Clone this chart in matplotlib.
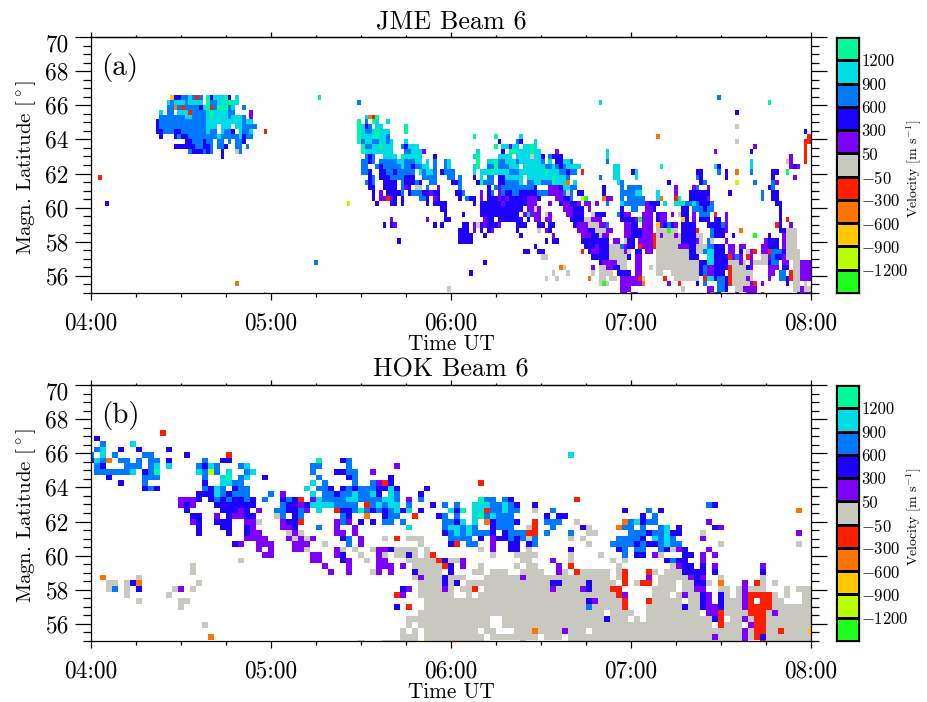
#!/bin/python3
import numpy as np
import matplotlib
matplotlib.use("Agg")
import matplotlib.pyplot as plt
from matplotlib.colors import ListedColormap
from matplotlib.ticker import FixedLocator, NullFormatter
from matplotlib.transforms import ScaledTranslation

plt.rcParams['font.family'] = ['cmr10', 'DejaVu Serif']
plt.rcParams['mathtext.fontset'] = 'cm'
plt.rcParams['axes.unicode_minus'] = False
plt.rcParams['axes.formatter.use_mathtext'] = True

# a..k = velocity bins, most negative to most positive
bin_letters = "abcdefghijk"
bin_colors = ["#1eff1e", "#b9ff00", "#ffc800", "#ff7300", "#ff1e00", "#c8c8c0",
              "#7d00ff", "#1e00ff", "#0078ff", "#00dce6", "#00fa9b"]
velocity_labels = ["$-1200$", "$-900$", "$-600$", "$-300$", "$-50$", "50", "300", "600", "900", "1200"]
hour_labels = ["04:00", "05:00", "06:00", "07:00", "08:00"]
lat_labels = ["56", "58", "60", "62", "64", "66", "68", "70"]

# JME: scan step is 1.2 min, gate 0 is the top row
jme_step = 1.2
jme_cells = {
    0: "22c 23-24h 25-26i 27j 28i 29e 30i 32k 33h 34-36j 37k 38h 40j 63k 174i",
    1: "21j 22i 23-25j 26i 27-30j 32k 33-34i 35-37j 38a 39-40j 74i 141j 188k",
    2: "21-22i 23d 24i 25e 26-29i 30h 31j 32k 33e 34i 35-37k 38i 39j 42i",
    3: "19j 21-22i 24-26j 27e 28-31i 32j 33k 34-37j 38-39i 44g 179h",
    4: "19-25i 26-27j 28-31i 32j 33k 34-37j 38i 39-41j 42i 44g 76j 77d 78e 79k",
    5: "18h 19-31i 32-41j 42i 43-44j 74k 76i 78k 79j 82j",
    6: "18h 19-31i 32-34j 36-38j 40-41j 42-45i 74k 75j 76h 77i 79-80j 87k 179f",
    7: "18-19h 20-22i 23-24h 25-31i 32j 33-34i 36j 37-38i 39h 41j 42-43i 44j 48e 74k 75j 76-77i 78j 79k 80-82j 87k 198h",
    8: "19h 23h 24i 25-26h 27-34i 35j 36-40i 41j 42h 43-44i 74k 75-78j 79k 80-81j 82i 106k 112k 119j 157d 199e",
    9: "26-27h 28-30i 31h 32-33i 35-36i 38i 40-41i 42h 74k 75i 76-77j 78-79i 80-81j 82i 83j 87j 113h 118i 119h 123j 179f 198-199e",
    10: "23-28h 29-30i 31-32h 33i 35-36i 37h 40-41i 43i 75k 76-77i 78-79j 80k 81-83j 86i 87h 88-90j 112k 114-115j 116g 117-118j 120-121j 122k 123j 184g 198e",
    11: "27i 28-30h 31i 32h 33i 36h 40f 41i 75k 76-83j 87-88i 89-91j 92g 107j 114h 116-117k 118-121j 122k 123-124j 129g 143j 173g 183h 198e",
    12: "36h 76i 77h 78i 81-84j 86k 87-91j 95h 106j 107k 113-116j 118-121j 122f 123-124j 125h 127i 128-130h 143j 194g 198e",
    13: "75-76i 77h 78i 80-84i 85-86j 87-89i 90-91j 93j 95i 98i 99j 107k 110-111j 112k 113-114i 115-117j 118i 119-124j 125i 127j 129-130h 131-132j 133i 143i 183j 193f 194g 198e",
    14: "75-76i 79i 80h 81-85i 86j 87-88i 89h 90-91i 92-93j 95i 98i 99j 106j 107k 110-111i 112k 113-115i 116-118j 120-125j 126-127i 128j 129i 130h 131i 132-135j 145-146j 158k 173j 174h 183j 194g 195h 196g",
    15: "75-76i 77h 80-81h 82-83i 84h 85-89i 91j 92i 93-94j 95i 97h 98-100i 106j 108-110j 111k 112-115j 116-118i 119-125j 126k 127-129j 130-131i 132h 133i 134i 136e 145-146j 150h 151j 168-169h 174i 176h 179d 183i 189-190h 193k",
    16: "2e 77h 78i 80-82h 83-86i 87-89h 92-95i 99-100i 102i 106h 108j 110-111i 113-114h 115-119j 121-127j 128k 129-131j 132i 141i 145-146j 151j 168i 169h 176h 189h 195g",
    17: "76i 77h 78i 81-84h 86i 87-89h 90i 91h 94-95i 100-101h 102i 107h 108k 109-111i 113-114h 115i 116-118i 119j 121-122i 123-124j 125-127i 128k 129-131j 132d 134j 146j 147i 160h 169h 170i 179b 184i 189i 190g",
    18: "77-78h 81-84h 86i 87g 88h 90-91f 93i 96g 102i 110h 112i 113g 114-122i 123h 127-129g 130h 131-132j 133-134i 142h 147i 149-152i 162g 167g 168i 171g 188h 189i",
    19: "78h 80g 82-85h 86i 88h 89-91i 92-93h 94g 95-96h 101-102h 103i 108g 110h 111i 113g 114i 115-116h 117-118i 119-123h 124-126i 127-130g 131i 132f 133i 135-136h 142h 147-148i 149-150i 151-152j 157j 162g 166-167h 168-171h 177h 186i 189-190h",
    20: "78h 80-81g 82e 83g 84h 86h 91-92i 93h 95g 96h 102h 104i 105-106h 108g 110-112h 113g 114h 115g 116-120h 121-123g 124h 129-130g 131-132h 133i 136b 137a 142d 143-144g 147i 149-153i 157j 158d 162e 163k 166-170h 171g 186i 189-190h",
    21: "4h 71b 79h 83-84h 86h 93h 95-98h 106h 108-113h 114g 115-120h 121-123g 127g 130h 131-132g 133-134h 135g 137-138g 140g 143i 147j 148i 149-153i 154g 155-157h 159j 162-164j 165-166i 167j 168i 169-171h 172i 190-191h",
    22: "97-98h 108-119h 121-122g 123f 124g 131-132g 133g 134-136h 138g 147h 150-151i 154-155g 156h 164-165h 167-169i 170h 171-172i 191h",
    23: "98h 103h 108-118h 120g 121j 122-124g 126f 127g 132g 133g 134-136h 139f 140-142h 146i 147h 148-149g 153-155g 157h 158-159g 161g 163f 164-165h 167g 169-171i 173e 176g 191h",
    24: "83g 93g 98-99h 109g 110-111h 113-119h 121h 123-124g 126-127g 133-136h 137-138f 139-141g 147-148h 149-150h 151g 152a 153-155g 157h 158-159g 164c 165h 167g 169-171h 173-174h 176g 191h 193e",
    25: "81h 83h 84g 95h 97h 103-104h 106g 107f 108h 109g 110-112h 113g 118-120h 124-125h 127-128h 134h 135-137g 138-140f 141-142g 143i 148-149g 150-151h 153-155g 157c 158g 159h 160i 161h 162g 164-167h 171-174h 175i 176g 190e 191h 194g",
    26: "102-104h 106g 108h 110h 111g 118h 124f 126g 127h 135-137g 138-139h 140-142f 143-144g 148-149g 150-152h 153-155g 157-159f 160a 161-162f 164-167h 168e 172i 173-175h 176g 180d 191-192h 193-195f",
    27: "102-105h 109h 119h 128g 136-138g 139-140h 141f 142-143g 148-149g 150-152h 153-155g 156e 157f 158g 159-161f 162g 163f 164-167h 168-169f 172i 173-175h 178h 184a 188h 192g 193-195f",
    28: "85h 102-105h 126h 128-129h 136-137h 138-142h 143h 145-146g 148f 149-150h 152-155g 156e 157-163f 164-167h 168g 169f 171i 172f 176g 187g 188-190h 192g 193-195f",
    29: "123h 137-139h 140g 141-143h 144-146f 147i 148g 149-150h 152e 153-155g 156e 157-162f 163-165g 166-167h 168-170f 171-172i 173-175h 177-178g 180-181g 186-187g 188-190h 192g 193-195f",
    30: "120-121h 124-125h 136e 138h 139-140g 141-143h 144-147f 148g 149f 151-152h 154-155g 157-165f 166-167h 168-169f 170i 171-172j 173-175h 177-178g 180h 182f 183g 184e 186-187g 188e 189-191i 192h 193-196f",
    31: "125-126f 139-143h 144-148f 149h 151-152g 157-165f 166-168h 171-172j 173-176h 177e 178g 179i 180g 182e 183g 186-187f 188g 189i 190-191h 192g 193-196f",
    32: "62i 109h 141h 142-145g 146-148f 151-152g 157-168f 169-170h 171-172j 173-176h 177-179f 180g 181f 183g 184-187f 188h 189-190i 192-193g 195-196f 197-199g",
    33: "130d 131f 139g 141-142f 143-144g 145-146h 147-148f 151-152g 155f 157-168f 169h 170i 171-172g 173-176h 177e 178-181f 182h 183g 188-190g 192-193h 195-196f 197-199g",
    34: "105h 128f 132f 139f 141-142f 143-144f 146-149h 151-152g 157-158f 161-168f 169h 170i 171-172g 173-175h 177e 178-183f 188-189g 191-192i 194e 195-196f 197-199g",
    35: "126f 129f 138d 141-142f 144-145f 147-151g 152e 153f 159e 162-168f 170e 171-172j 173h 174-175i 176h 177e 178-181f 182g 183f 188g 191-192i 193h 194e 195-196f 197-199g",
    36: "40d 141f 142a 143f 147-152g 153d 160g 163e 168h 170i 174-175i 176h 177e 178-182f 183g 184e 186g 193h 195-196f 198f",
    37: "99f 147-149g 164f 171-172g 174-175i 176h 179-180f 181-184g 195-196f 197g 198-199f",
    38: "48f 147-148g 150-151g 171g 172d 173i 174h 179g 182-184g 186e 196h 197-199g",
}

# HOK: scan step is 2 min, gate number counts up from the bottom
hok_step = 2.0
hok_cells = {
    36: "12e",
    35: "1h",
    34: "2i 7j",
    33: "1i 2j 5h 8h 13h",
    32: "0i 2j 4i 9-10i 16h 23e 80j",
    31: "0h 1j 2i 3d 5-6i 8i 10-11i 13h 19i 22-23h 38k 42h 43i",
    30: "1i 2h 6-8i 10i 11j 13j 18i 19h 20j 21i 25i 26j 37-38i 43i 51g",
    29: "1-6i 7j 9h 10i 11k 18j 19i 20b 21i 23j 26i 27j 37i 41-42h 43-44i 47g",
    28: "3h 9-11i 19i 22j 23k 25i 26j 29h 38i 43h 44i 50h",
    27: "5h 9i 19h 22-23j 24-25i 37j 39i 44i 47i 48g 49e 50h 65e",
    26: "9h 10i 11h 19i 20h 21j 22i 24h 25-26i 36j 38-39i 40h 42h 43i 44h 45-47i 48-49h 50j 51h 56h",
    25: "18-20h 21j 22i 23h 24-26i 30i 32g 37j 39-40i 41h 42-43i 44j 45-46i 47j 48h 50j 51i 55h",
    24: "15-17g 18h 20h 21i 22h 23i 24-25h 26i 27h 29i 32h 33i 34h 35e 37g 38j 39-42i 43-44j 45-48i 49-50j 51i 53g 55i 65k 66-67i 69i 70h 81e",
    23: "15g 16h 17g 21-27h 32i 33-34h 35g 36h 37-40j 41-44i 46e 47i 48j 49i 50-51j 53i 57h 59i 61i 64-66j 67-68i 69j 70i 71h 74h 103i 104h",
    22: "16h 22-24h 25g 26h 28g 31-32i 33-34h 35i 36g 38j 41e 42-43h 44i 45k 46i 47h 48i 49h 50i 51j 52h 53j 55h 60j 61h 62k 64-65j 66e 67-68i 69j 70-71i 74f 77i 89h 93i 95h 118d",
    21: "17-18h 21g 23h 24-25g 26-27h 31f 32i 34h 35i 42i 43h 46d 49h 50-51i 54e 58h 59i 61i 64j 65k 66i 67j 68-70i 76h 78-79h 92h 94i",
    20: "17g 18h 21-23h 26-27g 28f 32g 33-34h 35e 41g 42i 43g 45h 47h 49-50i 52i 59-60i 61h 62j 64j 66d 67h 68-70i 71h 74e 76-78i 81f 89d 90i 91j 92h 93-94i 103g",
    19: "18h 22-23h 26h 27g 32-33g 34h 38i 41g 44g 53j 59i 60-61j 62i 63j 64i 67h 68-70i 73f 74e 77i 82h 83f 88d 89-90i 92i 95i 96j 98h 104h 105g",
    18: "18h 23h 26h 27-28g 33f 34g 35f 41-42g 44g 59h 60i 61j 62i 63j 64-66i 67h 69h 70-72i 73-74e 76i 80i 83-84f 90-92i 93h 94-95i 96j 97-98h 102f 118g",
    17: "26-29g 33g 34f 35g 36f 37g 42h 43i 45g 49f 51e 53-55f 60-63i 65h 67g 68-69h 70i 71h 72i 73f 74i 80f 82f 88-91i 92h 94j 95i 96j 97i 102g",
    16: "24h 25g 28-30g 34-36g 39f 43i 45g 55f 60h 61e 63-64i 67g 70-71h 73h 74i 83f 87-90i 91h 92i 93-94h 95i 96j 97-98i 105f 118f",
    15: "28g 30g 34-35g 36f 41g 42f 44f 47f 48-49g 50h 51-54f 56f 65f 67g 70-71h 73f 80h 88h 89i 91-92i 95i 96h 97f 98g 99h 103g",
    14: "29-30g 37-38g 41g 42h 45f 48g 49f 51-52f 53h 54f 56f 57e 67f 71-74f 80f 85f 89i 91-92h 94g 95f 99-100h 102g 104g",
    13: "25f 37-38g 42h 43g 46f 48-49g 53-57f 58e 59h 60-61f 62g 72-73f 77g 80f 87f 89f 96h 97i 98-99h 102g",
    12: "17f 39g 43g 48-50g 52g 54-58f 59e 60h 62g 65f 71f 73-74f 78g 80e 88f 97f 98g 99-100h 102h 104g 112g",
    11: "17f 40g 43g 47f 48g 50g 54h 55-58f 60h 64-65f 67-69f 72-75f 78g 79f 81e 82-86f 88f 89e 93e 94f 96-98f 99-102h 104h 112h",
    10: "2d 8f 54f 55g 56-58f 59h 60-62f 66-71f 72g 73-86f 88f 89e 93g 95-99f 100g 101h 102g 105f 112f",
    9: "3-4f 6f 7h 8d 18f 55-58f 59h 60f 61h 63-76f 77-78h 79-82f 83h 84-87f 89e 91f 92-93e 95-97f 99-100f 101-102h 103f 105d 109g 111e 112f 114f",
    8: "3f 4i 6f 8h 14f 15g 17f 52h 53g 55-58f 59g 60f 62-63f 64e 66-76f 77g 78-81f 82g 83h 84-86f 87-88e 94-97f 99-100f 101-102g 105-106f 108f 109g 110-112f 116f 118-120f",
    7: "6f 13f 51e 52g 55-60f 63f 65-87f 88e 89g 94-96f 98f 99g 100-101f 102h 103g 105h 106f 108f 109g 110-113e 114f 116f 119-120f",
    6: "8f 15-16f 56-82f 83h 84g 85-88f 89e 93e 94-98f 100-101f 102h 103g 105h 106-108f 109g 110e 112-113e 114-115f 119-120f",
    5: "15f 51h 53e 56-82f 83i 84-88f 89e 93-98f 99h 100-101f 102h 103-104g 105h 106-108f 109g 110-113e 114-120f",
    4: "55-85f 87-90f 93-101f 103-104g 105e 106-109f 110-112e 113f 114g 115-120f",
    3: "53-66f 69-85f 86h 87-89f 91f 93-103f 104h 105e 107-108f 109g 110f 111-112e 113-120f",
    2: "19f 53f 55-66f 69-103f 105e 106-108f 110g 111-112e 113-120f",
    1: "52f 54f 56-64f 66-67f 71-73f 74d 75-78f 79g 80-82f 84-108f 109g 110f 111-112e 113-114f 115e 116-119f 120c",
    0: "20d 52-54f 56-65f 67-74f 76-78f 80-103f 104g 105-108f 109g 110f 111e 112h 113-120f",
    -1: "45f 49-54f 56b 57-60f 61c 62-65f 72f 80-108f 109g 112e 113-120f",
}


def fill_grid(cells, first_row, nrow, ncol):
    grid = np.full((nrow, ncol), np.nan)
    for row, text in cells.items():
        for tok in text.split():
            level = bin_letters.index(tok[-1])
            parts = tok[:-1].split("-")
            grid[row - first_row, int(parts[0]):int(parts[-1]) + 1] = level
    return grid


def draw_panel(rect, x_edges, y_edges, grid, title, tag):
    ax = fig.add_axes(rect)
    ax.pcolormesh(x_edges, y_edges, grid, cmap=cmap, vmin=-0.5, vmax=10.5, antialiased=False)
    ax.set_xlim(0, 240)
    ax.set_ylim(55, 70)
    ax.xaxis.set_major_locator(FixedLocator(np.arange(0, 241, 60)))
    ax.xaxis.set_minor_locator(FixedLocator(np.arange(0, 241, 15)))
    ax.set_xticklabels(hour_labels)
    ax.yaxis.set_major_locator(FixedLocator(np.arange(56, 71, 2)))
    ax.yaxis.set_minor_locator(FixedLocator(np.arange(55, 70.1, 0.5)))
    ax.set_yticklabels(lat_labels)
    ax.yaxis.set_minor_formatter(NullFormatter())
    ax.tick_params(axis='x', which='major', length=5.2, width=0.9, pad=8.5, labelsize=16.8)
    ax.tick_params(axis='x', which='minor', length=2.9, width=0.9)
    ax.tick_params(axis='y', which='major', length=11.5, width=0.9, pad=4.5, labelsize=16.8, right=True)
    ax.tick_params(axis='y', which='minor', length=6, width=0.9, right=True)
    top = ax.secondary_xaxis('top')
    top.xaxis.set_major_locator(FixedLocator(np.arange(0, 241, 60)))
    top.xaxis.set_minor_locator(FixedLocator(np.arange(0, 241, 15)))
    top.xaxis.set_major_formatter(NullFormatter())
    top.xaxis.set_minor_formatter(NullFormatter())
    top.tick_params(axis='x', which='major', length=3.6, width=0.9)
    top.tick_params(axis='x', which='minor', length=1.5, width=0.9)
    for s in list(ax.spines.values()) + list(top.spines.values()):
        s.set_linewidth(0.9)
    # the 70 label sits lower than its tick
    lab = ax.get_yticklabels()[-1]
    lab.set_transform(lab.get_transform() + ScaledTranslation(0, -6 / 100, fig.dpi_scale_trans))
    ax.set_title(title, fontsize=18.8, pad=6)
    ax.set_xlabel("Time UT", fontsize=15.3, labelpad=0)
    ax.set_ylabel(r"Magn. Latitude [$^\circ$]", fontsize=15, labelpad=5, y=0.49)
    ax.text(9.7, 68.24, tag, fontsize=21, ha='center', va='center')
    return ax


def draw_colorbar(rect):
    cax = fig.add_axes(rect)
    cax.pcolormesh([0, 1], np.arange(12), np.arange(11).reshape(-1, 1), cmap=cmap,
                   vmin=-0.5, vmax=10.5, edgecolors='k', linewidth=0.8)
    cax.set_xticks([])
    cax.set_ylim(0, 11)
    cax.yaxis.tick_right()
    cax.set_yticks(np.arange(1, 11))
    cax.set_yticklabels(velocity_labels, fontsize=12)
    cax.tick_params(axis='y', length=0, pad=1.5)
    for s in cax.spines.values():
        s.set_linewidth(0.9)
    cax.text(3.35, 5.35, r"Velocity [m s$^{-1}$]", fontsize=10, rotation=90, ha='center', va='center')


def px_rect(left, top, right, bottom):
    return [left / 927, (702 - bottom) / 702, (right - left) / 927, (bottom - top) / 702]


cmap = ListedColormap(bin_colors)
fig = plt.figure(figsize=(9.27, 7.02), dpi=100)

# gate edges get narrower with latitude
jme_lat_edges = np.concatenate([np.linspace(66.6, 62.88, 14), np.linspace(62.88, 54.76, 27)[1:]])
jme_grid = fill_grid(jme_cells, 0, 39, 200)
jme_x = np.arange(201) * jme_step
jme_lat_edges = jme_lat_edges[:40]
draw_panel(px_rect(91, 37, 811, 293), jme_x, jme_lat_edges, jme_grid, "JME Beam 6", "(a)")
draw_colorbar(px_rect(835.5, 37, 859, 293))

hok_lat_edges = np.concatenate([np.linspace(54.71, 58.57, 12), np.linspace(58.57, 67.36, 28)[1:]])
hok_grid = fill_grid(hok_cells, -1, 38, 121)
hok_x = (np.arange(122) - 0.5) * hok_step
draw_panel(px_rect(91, 385, 811, 641), hok_x, hok_lat_edges, hok_grid, "HOK Beam 6", "(b)")
draw_colorbar(px_rect(835.5, 385, 859, 641))

fig.savefig("out.png", dpi=100)
